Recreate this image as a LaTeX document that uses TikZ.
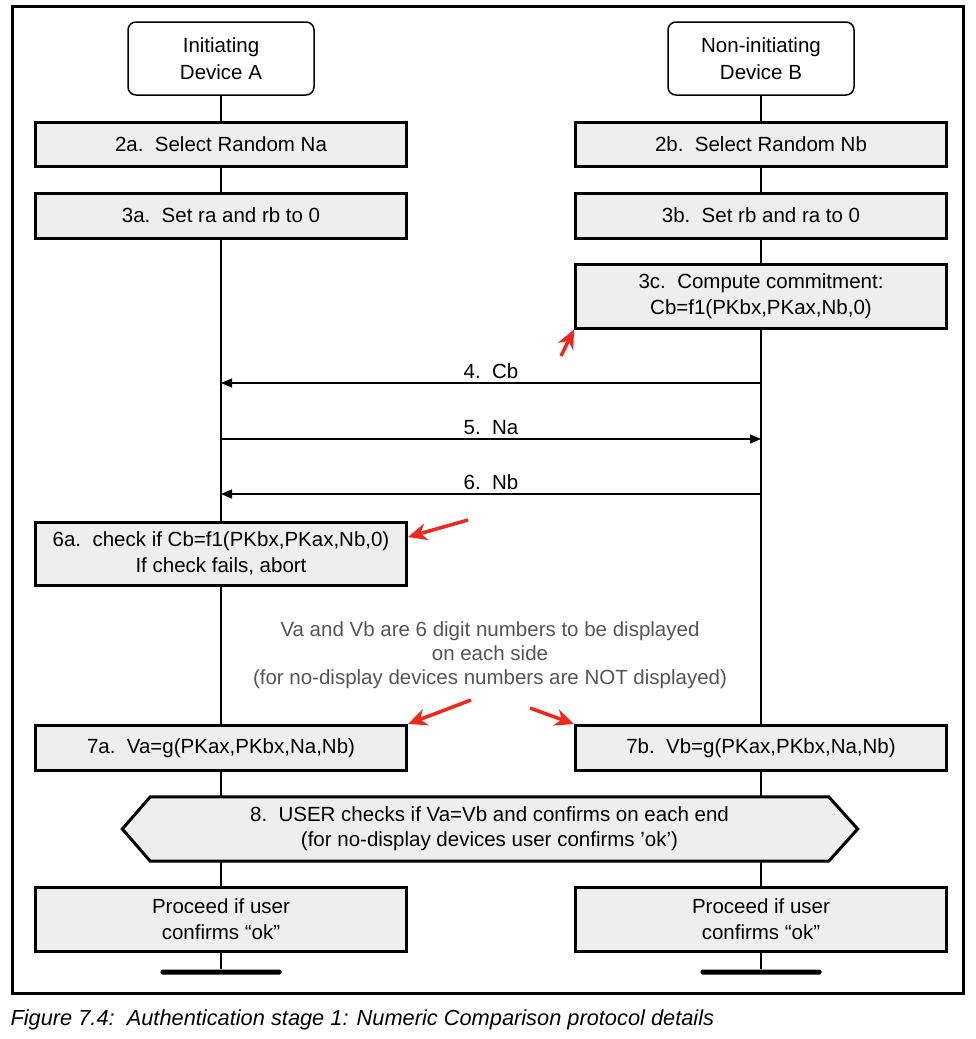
\documentclass[tikz,border=0pt]{standalone}
\usepackage{fontspec}
\setmainfont{Liberation Sans}
\usetikzlibrary{arrows.meta, positioning}
\pgfdeclarelayer{fondo}
\pgfsetlayers{fondo,main}
\definecolor{gris}{RGB}{238,238,238}
\definecolor{grisnota}{RGB}{85,85,85}
\definecolor{rojo}{RGB}{240,40,28}

\begin{document}
\begin{tikzpicture}[x=1pt, y=-1pt,
    every node/.style={font=\fontsize{20.5}{26}\selectfont},
    dev/.style={draw, rectangle, rounded corners=8pt, line width=1.5pt, fill=white, minimum width=186pt, minimum height=73pt, align=center, font=\fontsize{20.5}{27}\selectfont},
    paso/.style={draw, rectangle, line width=3pt, fill=gris, minimum width=371pt, minimum height=45pt, align=center},
    vida/.style={line width=2.5pt},
    msg/.style={-{Triangle[length=11pt,width=9pt]}, line width=1.2pt},
    aviso/.style={-{Stealth[length=19pt,width=17pt]}, line width=3.5pt, rojo},
    barra/.style={rectangle, fill=black, rounded corners=2pt, minimum width=121pt, minimum height=5pt, inner sep=0pt}]
    \useasboundingbox (0,0) rectangle (975,1039);

    % Marco
    \draw[line width=3pt] (12,6) rectangle (963,993);

    % Dispositivos
    \node (devA) [dev] at (221,58.5) {Initiating\\Device A};
    \node (devB) [dev, right=352.5pt of devA] {Non-initiating\\Device B};

    % Pasos 2 y 3
    \node (s2a) [paso, minimum height=44pt, below=24.75pt of devA] {2a.~~Select Random Na};
    \node (s2b) [paso, minimum height=44pt, right=166pt of s2a] {2b.~~Select Random Nb};
    \node (s3a) [paso, below=24pt of s2a] {3a.~~Set ra and rb to 0};
    \node (s3b) [paso, right=166pt of s3a] {3b.~~Set rb and ra to 0};
    \node (s3c) [paso, minimum height=64pt, below=23pt of s3b] {3c.~~Compute commitment:\\Cb=f1(PKbx,PKax,Nb,0)};

    % Puntos de los mensajes
    \coordinate (a4) at (221,383);
    \coordinate (b4) at (761,383);
    \coordinate (a5) at (221,439);
    \coordinate (b5) at (761,439);
    \coordinate (a6) at (221,494);
    \coordinate (b6) at (761,494);

    % Paso 6a y nota
    \node (s6a) [paso, minimum height=63pt] at (221,553.5) {6a.~~check if Cb=f1(PKbx,PKax,Nb,0)\\If check fails, abort};
    \node (nota) [text=grisnota, align=center, font=\fontsize{20.5}{24}\selectfont] at (490,655) {Va and Vb are 6 digit numbers to be displayed\\on each side\\(for no-display devices numbers are NOT displayed)};

    % Pasos 7
    \node (s7a) [paso] at (221,748) {7a.~~Va=g(PKax,PKbx,Na,Nb)};
    \node (s7b) [paso, right=166pt of s7a] {7b.~~Vb=g(PKax,PKbx,Na,Nb)};

    % Paso 8 (hexagono)
    \node (hex) [minimum width=678pt, minimum height=64pt, align=center, font=\fontsize{20.5}{25}\selectfont] at (489.5,829) {8.~~USER checks if Va=Vb and confirms on each end\\(for no-display devices user confirms 'ok')};
    \begin{pgfonlayer}{fondo}
        \draw[line width=3pt, fill=gris] (hex.north west) -- (hex.north east) -- ([xshift=29pt]hex.east) -- (hex.south east) -- (hex.south west) -- ([xshift=-28pt]hex.west) -- cycle;
    \end{pgfonlayer}

    % Final
    \node (s9a) [paso, minimum height=64pt] at (221,919) {Proceed if user\\confirms “ok”};
    \node (s9b) [paso, minimum height=64pt, right=166pt of s9a] {Proceed if user\\confirms “ok”};
    \node (barA) [barra] at (221,972) {};
    \node (barB) [barra] at (761,972) {};

    % Lineas de vida
    \draw[vida] (devA) -- (s2a);
    \draw[vida] (s2a) -- (s3a);
    \draw[vida] (s3a) -- (s6a);
    \draw[vida] (s6a) -- (s7a);
    \draw[vida] (s7a) -- (s7a |- hex.north);
    \draw[vida] (s7a |- hex.south) -- (s9a);
    \draw[vida] (s9a) -- (barA);
    \draw[vida] (devB) -- (s2b);
    \draw[vida] (s2b) -- (s3b);
    \draw[vida] (s3b) -- (s3c);
    \draw[vida] (s3c) -- (s7b);
    \draw[vida] (s7b) -- (s7b |- hex.north);
    \draw[vida] (s7b |- hex.south) -- (s9b);
    \draw[vida] (s9b) -- (barB);

    % Mensajes
    \draw[msg] (b4) -- (a4) node[midway, above] {4.~~Cb};
    \draw[msg] (a5) -- (b5) node[midway, above] {5.~~Na};
    \draw[msg] (b6) -- (a6) node[midway, above] {6.~~Nb};

    % Flechas rojas
    \coordinate (r1) at (561,356);
    \coordinate (r2) at (468,520);
    \coordinate (r3) at (471,700);
    \coordinate (r4) at (530,708);
    \draw[aviso] (r1) -- (s3c.south west);
    \draw[aviso] (r2) -- (s6a.east |- 0,537);
    \draw[aviso] (r3) -- (s7a.north east);
    \draw[aviso] (r4) -- (s7b.north west);

    % Pie de figura
    \node (pie) [anchor=west, font=\fontsize{21.8}{24}\selectfont\itshape] at (7,1020) {Figure 7.4:~~Authentication stage 1: Numeric Comparison protocol details};
\end{tikzpicture}
\end{document}
